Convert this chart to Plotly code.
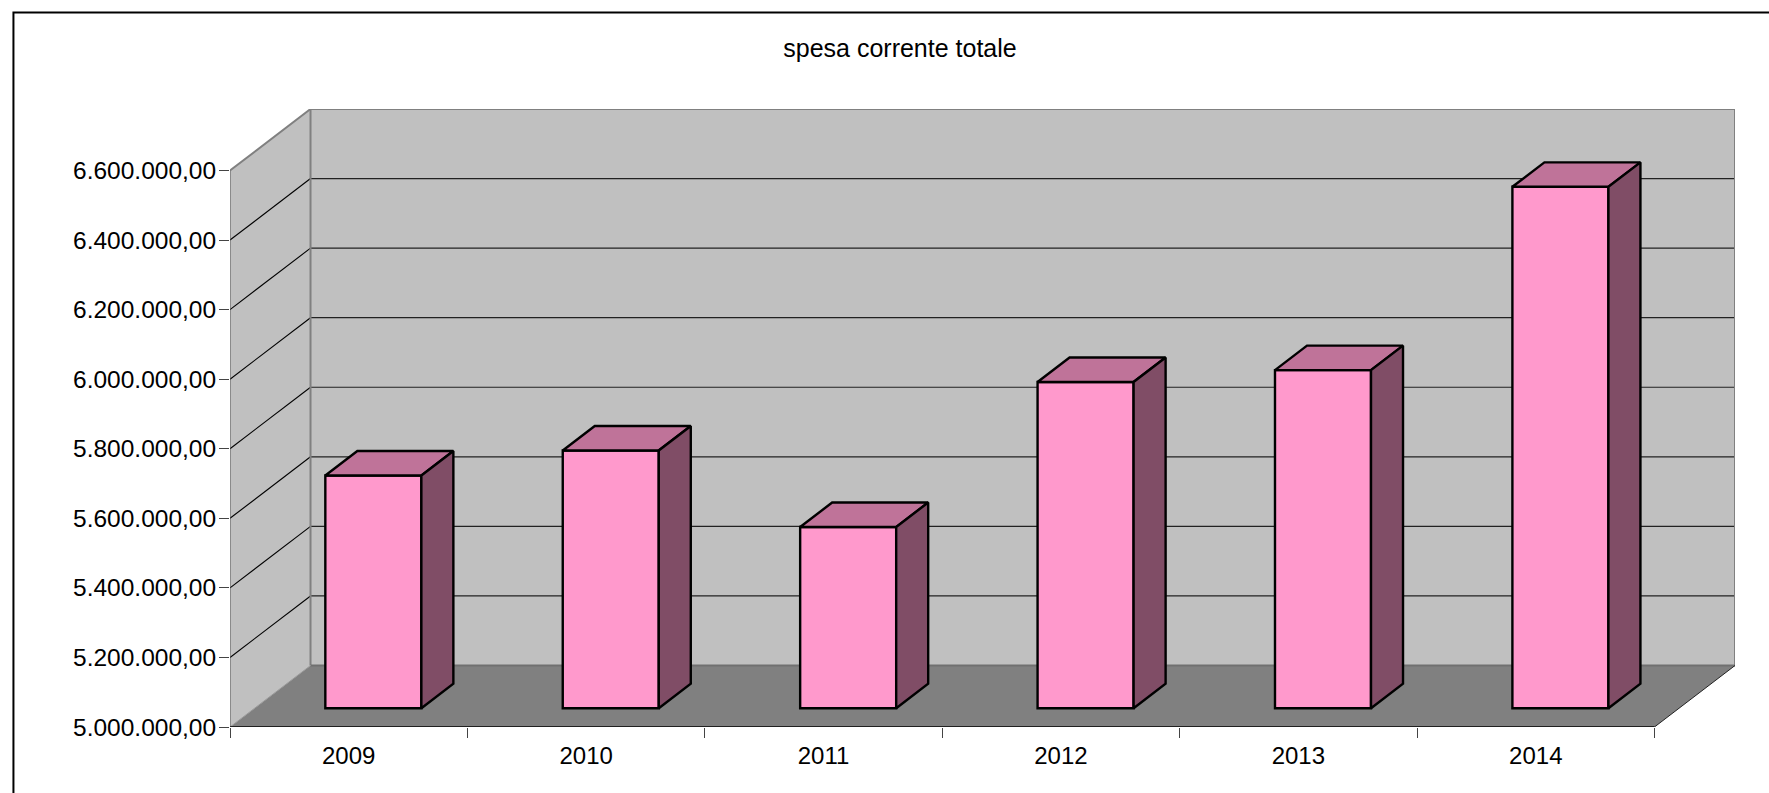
import plotly.graph_objects as go

# ---- data ----
years = ["2009", "2010", "2011", "2012", "2013", "2014"]
spesa = [5669000, 5741000, 5521000, 5938000, 5972000, 6499000]
y_ticks = [5000000, 5200000, 5400000, 5600000, 5800000, 6000000, 6200000, 6400000, 6600000]
y_labels = ["5.000.000,00", "5.200.000,00", "5.400.000,00", "5.600.000,00", "5.800.000,00",
            "6.000.000,00", "6.200.000,00", "6.400.000,00", "6.600.000,00"]
title_text = "spesa corrente totale"

# ---- projection of the 3-D look, in axis units ----
W, H = 1769, 793
X_UNIT = 237.35                         # px per category
Y_UNIT = (727 - 170.5) / 1600000        # px per value unit
DX_PX, DY_PX = 80.5, 61.5
N = len(years)
Y0, Y1 = y_ticks[0], y_ticks[-1]
L, B = 230, 727                         # plot origin in pixels
R = L + N * X_UNIT + DX_PX
T = B - (Y1 - Y0) * Y_UNIT - DY_PX
DX = DX_PX / X_UNIT                     # floor depth along x
DY = DY_PX / Y_UNIT                     # floor depth along y
BAR_W = 96 / X_UNIT
D1, D2 = 0.306, 0.7035                  # depth of bar front and back faces

x_range = [0, N + DX]
y_range = [Y0, Y1 + DY]

FONT = "Liberation Sans, Arial, sans-serif"
WALL, FLOOR, EDGE = "#C0C0C0", "#808080", "#808080"
PINK, PINK_TOP, PINK_SIDE = "#FF99CC", "#BF7399", "#804D66"


def poly(xs, ys, fill=None, line=None, width=1, axes=("x", "y")):
    return go.Scatter(
        x=xs, y=ys, mode="lines", xaxis=axes[0], yaxis=axes[1],
        fill="toself" if fill else None, fillcolor=fill,
        line=dict(color=line or "rgba(0,0,0,0)", width=width, simplify=False),
        hoverinfo="skip", showlegend=False, cliponaxis=False,
    )


traces = []
# walls and floor
traces.append(poly([DX, N + DX, N + DX, DX, DX], [Y0 + DY, Y0 + DY, Y1 + DY, Y1 + DY, Y0 + DY], fill=WALL))
traces.append(poly([0, DX, DX, 0, 0], [Y0, Y0 + DY, Y1 + DY, Y1, Y0], fill=WALL))
traces.append(poly([0, N, N + DX, DX, 0], [Y0, Y0, Y0 + DY, Y0 + DY, Y0], fill=FLOOR))

# gridlines: across the side wall, then along the back wall
for v in y_ticks[1:-1]:
    traces.append(poly([0, DX], [v, v + DY], line="#000000", width=1.1))
    traces.append(poly([DX, N + DX], [v + DY, v + DY], line="#222222", width=1.2))

# wall edges
traces.append(poly([0, DX, N + DX, N + DX], [Y1, Y1 + DY, Y1 + DY, Y0 + DY], line=EDGE, width=2))
traces.append(poly([DX, DX], [Y0 + DY, Y1 + DY], line=EDGE, width=2))
traces.append(poly([DX, N + DX], [Y0 + DY, Y0 + DY], line="#707070", width=2))
traces.append(poly([0, 0], [Y0, Y1], line="#555555", width=1))
traces.append(poly([0, DX], [Y0, Y0 + DY], line="#9a9a9a", width=1))
traces.append(poly([N, N + DX], [Y0, Y0 + DY], line="#222222", width=1))
traces.append(poly([0, N], [Y0, Y0], line="#000000", width=1.4))

# bars live on an overlaid pair of axes, shifted so the front face sits inside the depth
traces.append(go.Bar(
    x=[i + 0.5 for i in range(N)],
    y=[v - Y0 for v in spesa],
    base=Y0,
    width=BAR_W,
    xaxis="x2", yaxis="y2",
    marker=dict(color=PINK, line=dict(color="#000000", width=2.4)),
    hoverinfo="skip", showlegend=False,
))
D = D2 - D1
for i, v in enumerate(spesa):
    xl, xr = i + 0.5 - BAR_W / 2, i + 0.5 + BAR_W / 2
    traces.append(poly([xl, xr, xr + D * DX, xl + D * DX, xl],
                       [v, v, v + D * DY, v + D * DY, v],
                       fill=PINK_TOP, line="#000000", width=2.4, axes=("x2", "y2")))
    traces.append(poly([xr, xr + D * DX, xr + D * DX, xr, xr],
                       [Y0, Y0 + D * DY, v + D * DY, v, Y0],
                       fill=PINK_SIDE, line="#000000", width=2.4, axes=("x2", "y2")))

fig = go.Figure(traces)


def px_x(p):
    return (p - L) / (R - L)


def px_y(p):
    return (B - p) / (B - T)


fig.update_layout(
    width=W, height=H, autosize=False,
    margin=dict(l=L, r=W - R, t=T, b=H - B, pad=0),
    paper_bgcolor="#FFFFFF", plot_bgcolor="rgba(0,0,0,0)",
    font=dict(family=FONT, size=24, color="#000000"),
    showlegend=False,
    title=dict(text=title_text, x=900 / W, xanchor="center", y=1 - 48.5 / H, yanchor="middle",
               font=dict(family=FONT, size=25, color="#000000")),
    xaxis=dict(
        range=x_range, showgrid=False, zeroline=False, showline=False,
        tickmode="array", tickvals=[i + 0.5 for i in range(N)], ticktext=years, ticks="",
        ticklabelstandoff=12,
        minor=dict(tickmode="array", tickvals=list(range(N + 1)), ticks="outside", ticklen=10,
                   tickcolor="#444444", tickwidth=1, showgrid=False),
        tickfont=dict(family=FONT, size=24, color="#000000"),
    ),
    yaxis=dict(
        range=y_range, showgrid=False, zeroline=False, showline=False,
        tickmode="array", tickvals=y_ticks, ticktext=y_labels, ticks="outside", ticklen=10,
        tickcolor="#444444", tickwidth=1, ticklabelstandoff=-2,
        tickfont=dict(family=FONT, size=24.5, color="#000000"),
    ),
    xaxis2=dict(
        overlaying="x", anchor="y2", visible=False,
        range=[x_range[0] - D1 * DX, x_range[1] - D1 * DX],
    ),
    yaxis2=dict(
        overlaying="y", anchor="x2", visible=False,
        range=[y_range[0] - D1 * DY, y_range[1] - D1 * DY],
    ),
    shapes=[
        dict(type="rect", xref="paper", yref="paper", layer="below",
             x0=px_x(13.5), x1=px_x(W + 20), y0=px_y(H + 20), y1=px_y(12.5),
             line=dict(color="#000000", width=2), fillcolor="rgba(0,0,0,0)"),
    ],
)

fig.write_html("out.html", config={"displayModeBar": False},
               post_script="document.body.style.margin='0';document.body.style.overflow='hidden';")
